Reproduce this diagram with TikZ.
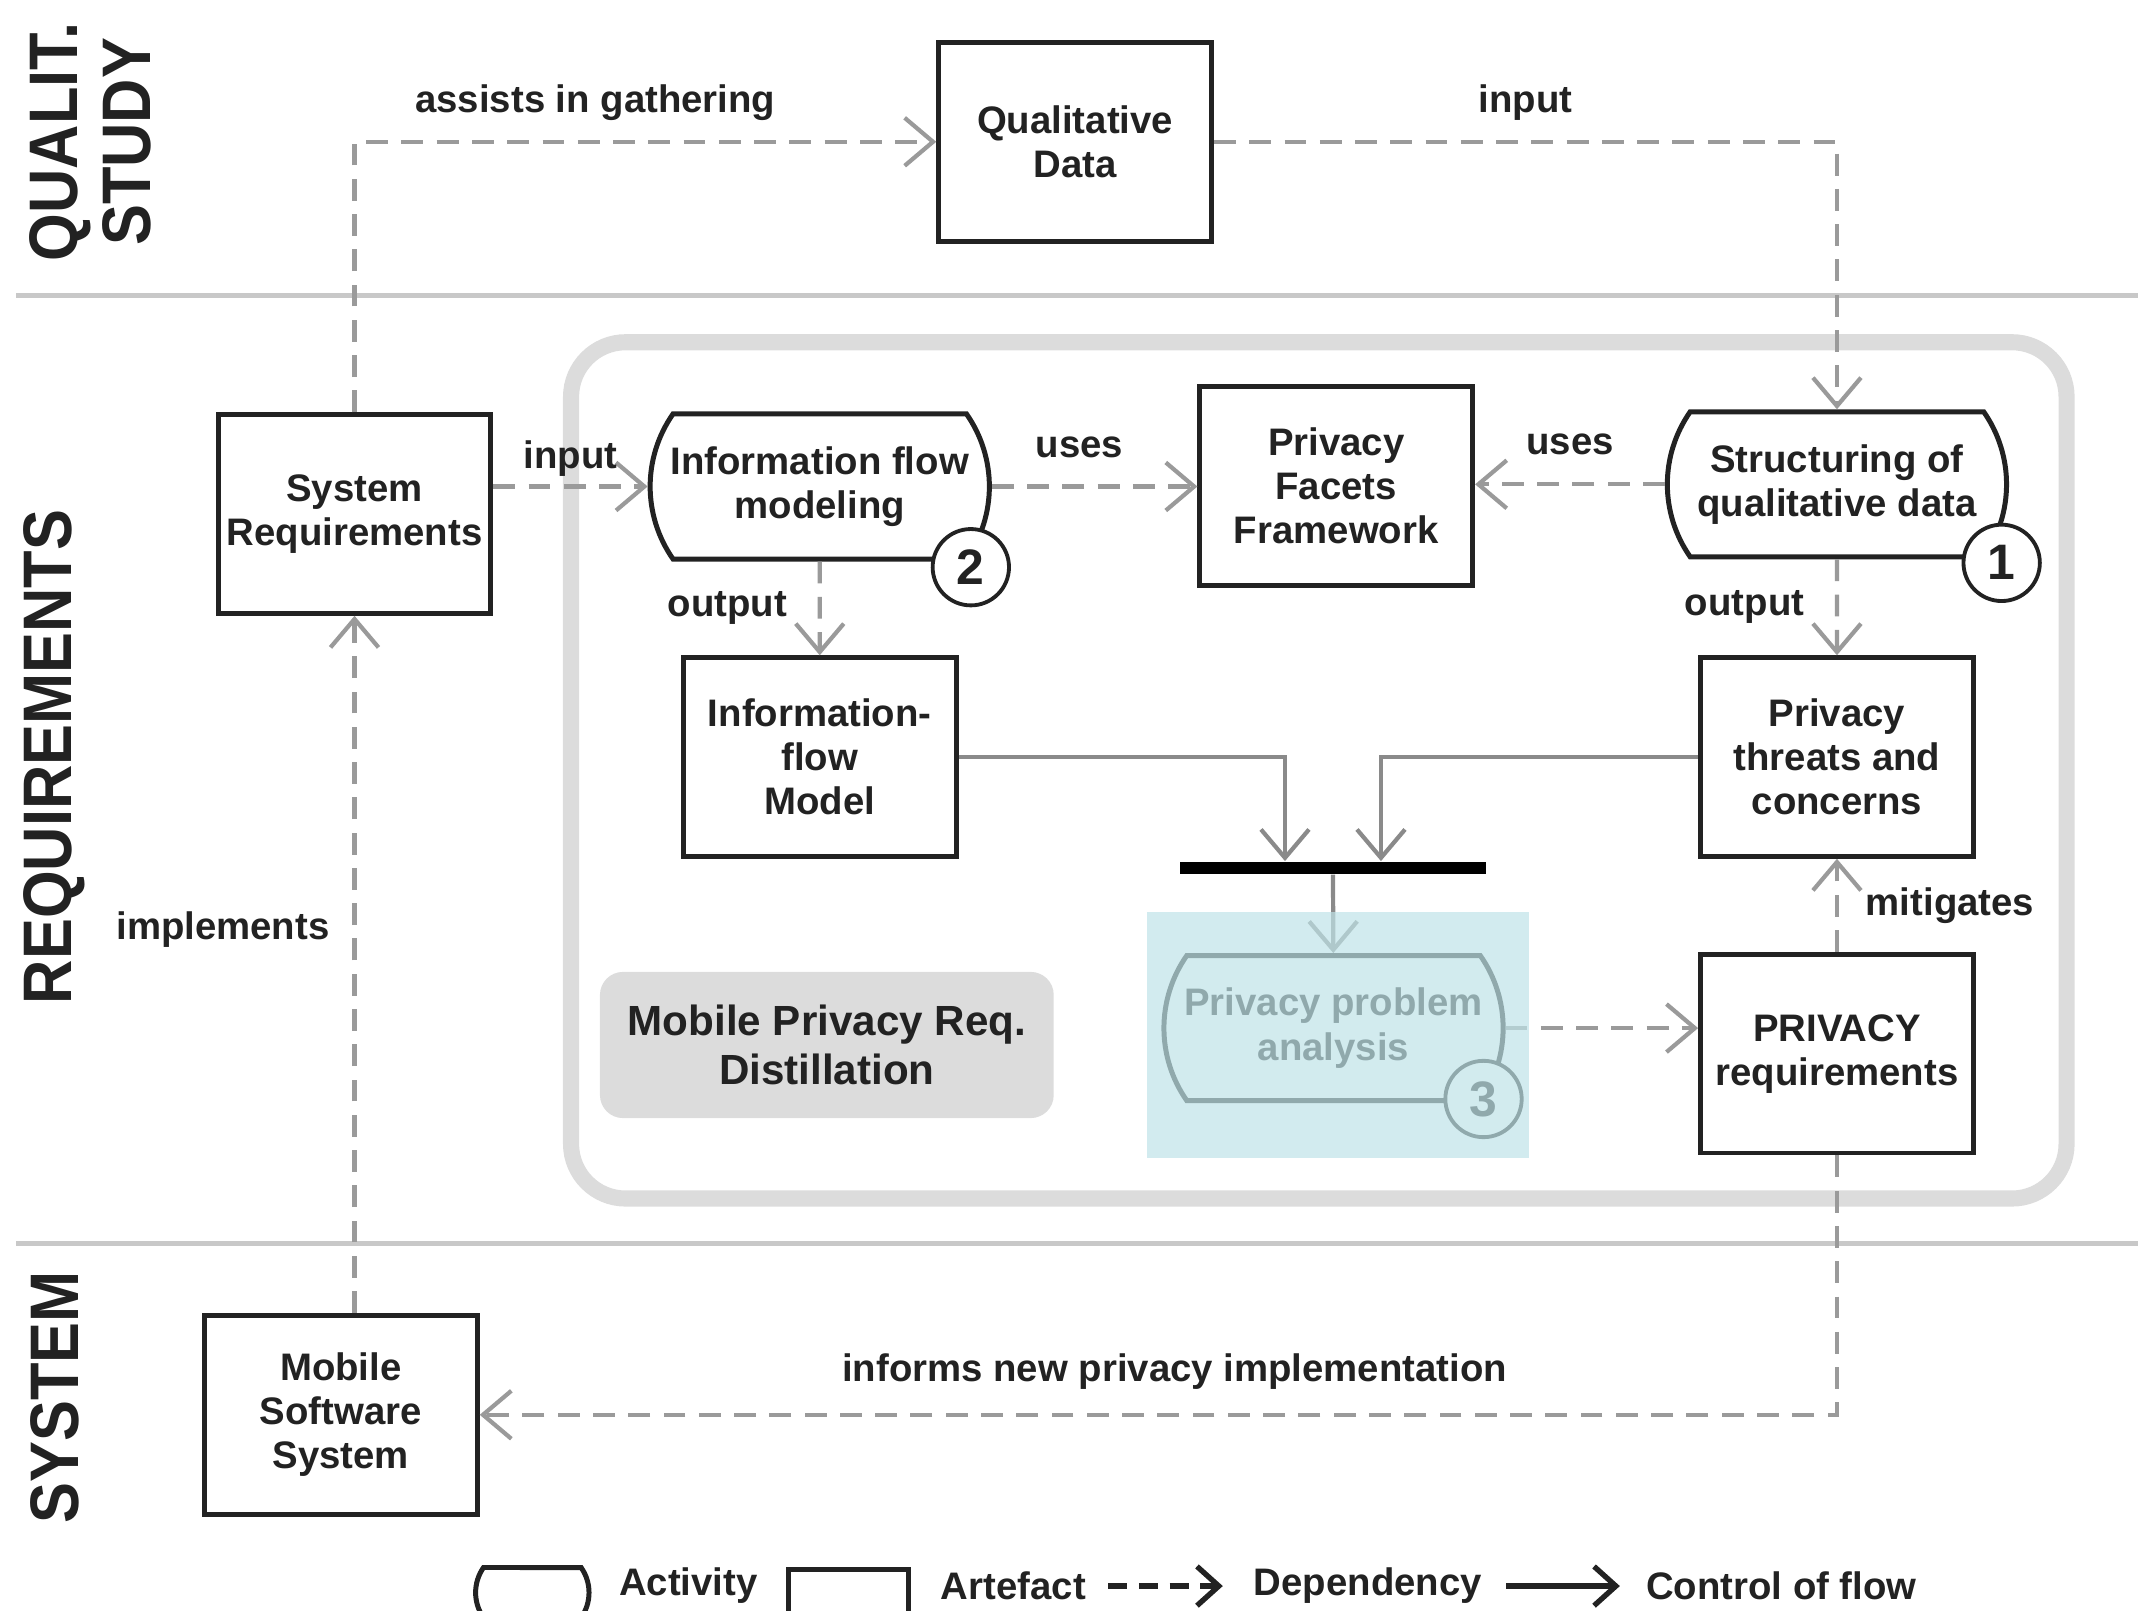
\documentclass[tikz,border=0pt]{standalone}
\usepackage{fontspec}
\setmainfont{Liberation Sans}
\usetikzlibrary{arrows.meta, shapes.misc, positioning, fit}
\definecolor{inkdark}{HTML}{222222}
\definecolor{deplight}{HTML}{9A9A9A}
\definecolor{flowgray}{HTML}{8A8A8A}
\definecolor{lanegray}{HTML}{C8C8C8}
\definecolor{regiongray}{HTML}{DCDCDC}
\definecolor{focuscyan}{HTML}{BFE3E8}

\begin{document}
\begin{tikzpicture}[
    artefact/.style={rectangle, draw=inkdark, line width=1.3pt, fill=white, minimum width=2.5cm, minimum height=1.82cm, align=center, inner sep=1pt, text=inkdark, font=\fontsize{10}{11.5}\selectfont\bfseries},
    activity/.style={rounded rectangle, rounded rectangle arc length=70, draw=inkdark, line width=1.3pt, fill=white, minimum width=3.18cm, minimum height=1.33cm, align=center, inner sep=1pt, text=inkdark, font=\fontsize{10}{11.5}\selectfont\bfseries},
    stepnum/.style={circle, draw=inkdark, line width=1pt, fill=white, minimum size=0.7cm, inner sep=0pt, text=inkdark, font=\fontsize{13}{13}\selectfont\bfseries},
    region/.style={rectangle, draw=regiongray, line width=4.2pt, rounded corners=0.5cm, minimum width=13.71cm, minimum height=7.85cm},
    regiontag/.style={rectangle, fill=regiongray, rounded corners=6pt, minimum width=4.16cm, minimum height=1.34cm, align=center, text=inkdark, font=\fontsize{11}{13}\selectfont\bfseries},
    focus/.style={rectangle, fill=focuscyan, fill opacity=0.7, inner sep=0pt},
    joinbar/.style={rectangle, fill=black, minimum width=2.81cm, minimum height=0.11cm, inner sep=0pt},
    dep/.style={-{Straight Barb[length=2.6mm,width=4.4mm]}, draw=deplight, line width=1.1pt, dash pattern=on 5.7pt off 3.5pt},
    flow/.style={-{Straight Barb[length=2.6mm,width=4.4mm]}, draw=flowgray, line width=1.1pt},
    tag/.style={text=inkdark, inner sep=2pt, font=\fontsize{10}{11.5}\selectfont\bfseries},
    lane/.style={rotate=90, align=center, text=inkdark, font=\fontsize{16}{19}\selectfont\bfseries},
    lanesep/.style={draw=lanegray, line width=1.1pt}]
\useasboundingbox (0,0) rectangle (19.6,-14.7625);
\node[lane] (qlane) at (0.83,-1.3) {\scalebox{1}[1.12]{QUALIT.}\\\scalebox{1}[1.12]{STUDY}};
\node[lane] (rlane) at (0.5,-6.94) {\scalebox{1}[1.12]{REQUIREMENTS}};
\node[lane] (slane) at (0.5,-12.81) {\scalebox{1}[1.12]{SYSTEM}};
\draw[lanesep] (0.15,-2.71) -- (19.6,-2.71);
\draw[lanesep] (0.15,-11.4) -- (19.6,-11.4);
\node[region] (distill) at (12.09,-7.0625) {};
\node[regiontag] (distilltag) at (7.58,-9.58) {Mobile Privacy Req.\\Distillation};
\node[artefact] (qdata) at (9.856,-1.3) {Qualitative\\Data};
\node[artefact] (sysreq) at (3.25,-4.7125) {System\\Requirements};
\node[activity] (ifmod) at (7.515,-4.46) {Information flow\\modeling};
\node[artefact] (pff) at (12.25,-4.456) {Privacy\\Facets\\Framework};
\node[activity] (structq) at (16.84,-4.44) {Structuring of\\qualitative data};
\node[artefact] (ifmodel) at (7.515,-6.94) {Information-\\flow\\Model};
\node[artefact] (threats) at (16.84,-6.94) {Privacy\\threats and\\concerns};
\node[joinbar] (bar) at (12.22,-7.956) {};
\node[activity] (analysis) at (12.225,-9.425) {Privacy problem\\analysis};
\node[artefact] (privreq) at (16.84,-9.66) {PRIVACY\\requirements};
\node[artefact] (mss) at (3.125,-12.97) {Mobile\\Software\\System};
\node[stepnum] (n2) at (8.9,-5.2) {2};
\node[stepnum] (n1) at (18.35,-5.16) {1};
\node[stepnum] (n3) at (13.6,-10.075) {3};
\draw[dep] (sysreq.north) |- node[tag, pos=0.707, above=3pt] {assists in gathering} (qdata.west);
\draw[dep] (qdata.east) -| node[tag, pos=0.25, above=3pt] {input} (structq.north);
\draw[dep] (sysreq.east |- ifmod.west) -- node[tag, above=0pt] {input} (ifmod.west);
\draw[dep] (ifmod.east) -- node[tag, above=5pt, xshift=-4pt] {uses} (ifmod.east -| pff.west);
\draw[dep] (structq.west) -- node[tag, above=5pt] {uses} (structq.west -| pff.east);
\draw[dep] (ifmod) -- node[tag, left=6pt] {output} (ifmodel);
\draw[dep] (structq) -- node[tag, left=6pt] {output} (threats);
\draw[dep] (privreq) -- node[tag, right=5pt] {mitigates} (threats);
\draw[dep] (analysis.east) -- (analysis.east -| privreq.west);
\draw[dep] (privreq.south) |- node[tag, pos=0.744, above=4pt] {informs new privacy implementation} (mss.east);
\draw[dep] (mss.north -| sysreq.south) -- node[tag, pos=0.55, left=4pt] {implements} (sysreq.south);
\draw[flow] (ifmodel.east) -| ([xshift=-0.44cm]bar.north);
\draw[flow] (threats.west) -| ([xshift=0.44cm]bar.north);
\draw[flow] (bar) -- (analysis);
\node[focus, minimum width=3.5cm, minimum height=2.26cm] (focusbox) at (12.2625,-9.49) {};
\node[activity, minimum width=1.11cm, minimum height=0.46cm] (keyact) at (4.88,-14.6) {};
\node[tag] (keyacttxt) at (6.31,-14.54) {Activity};
\node[artefact, minimum width=1.1cm, minimum height=0.42cm] (keyart) at (7.775,-14.6) {};
\node[tag] (keyarttxt) at (9.29,-14.54) {Artefact};
\coordinate (keydepa) at (10.16,-14.54);
\coordinate (keydepb) at (11.21,-14.54);
\draw[-{Straight Barb[length=2mm,width=3.6mm]}, draw=inkdark, line width=1.4pt, dash pattern=on 5pt off 3pt] (keydepa) -- (keydepb);
\node[tag] (keydeptxt) at (12.54,-14.54) {Dependency};
\coordinate (keyflowa) at (13.81,-14.54);
\coordinate (keyflowb) at (14.85,-14.54);
\draw[-{Straight Barb[length=2mm,width=3.6mm]}, draw=inkdark, line width=1.4pt] (keyflowa) -- (keyflowb);
\node[tag] (keyflowtxt) at (16.33,-14.54) {Control of flow};
\end{tikzpicture}
\end{document}
